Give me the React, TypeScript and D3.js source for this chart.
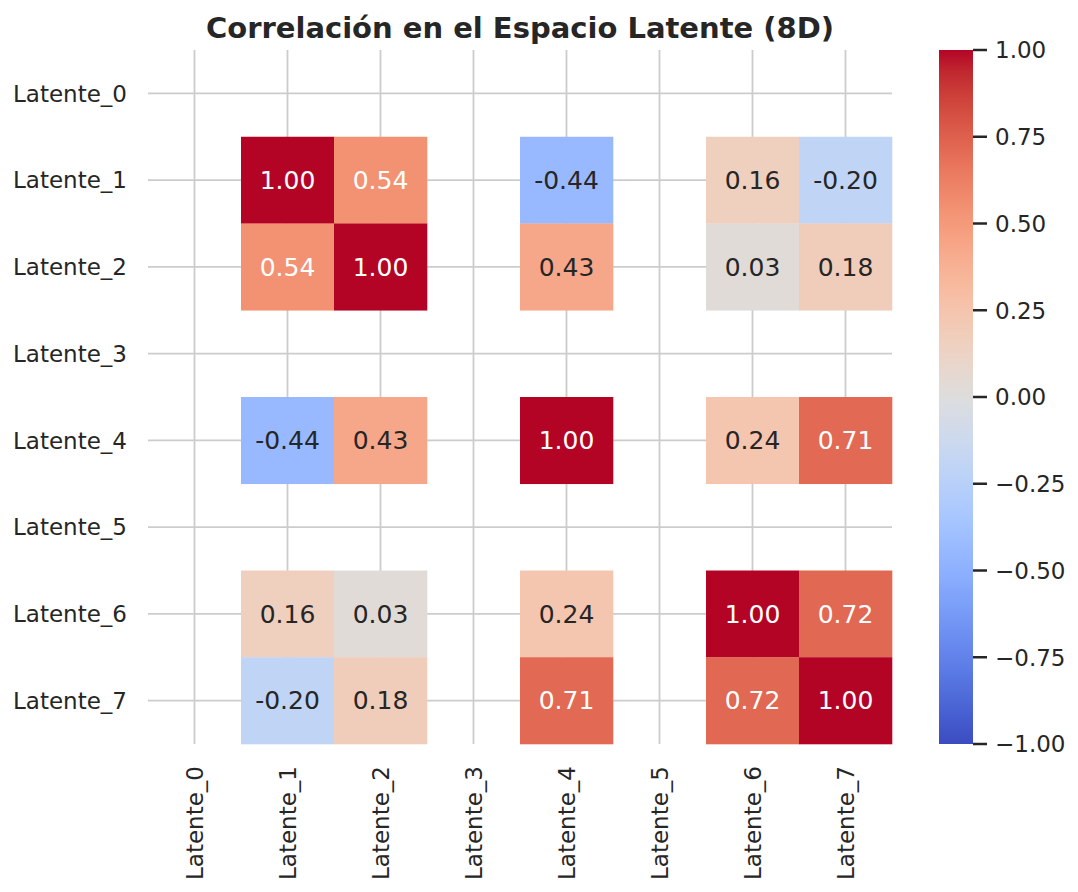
import React from "react";
import * as d3 from "d3";

const labels = ["Latente_0", "Latente_1", "Latente_2", "Latente_3", "Latente_4", "Latente_5", "Latente_6", "Latente_7"];
const N = NaN;
const corrMatrix: number[][] = [
  [N, N, N, N, N, N, N, N],
  [N, 1.0, 0.54, N, -0.44, N, 0.16, -0.2],
  [N, 0.54, 1.0, N, 0.43, N, 0.03, 0.18],
  [N, N, N, N, N, N, N, N],
  [N, -0.44, 0.43, N, 1.0, N, 0.24, 0.71],
  [N, N, N, N, N, N, N, N],
  [N, 0.16, 0.03, N, 0.24, N, 1.0, 0.72],
  [N, -0.2, 0.18, N, 0.71, N, 0.72, 1.0],
];
const cbarTicks = [1.0, 0.75, 0.5, 0.25, 0.0, -0.25, -0.5, -0.75, -1.0];
const title = "Correlación en el Espacio Latente (8D)";

// matplotlib coolwarm segment data
const coolwarmData: [number, number, number][] = [
  [0.2298057, 0.298717966, 0.753683153],
  [0.26623388, 0.353094838, 0.801466763],
  [0.30386891, 0.406535296, 0.84495867],
  [0.342804478, 0.458757618, 0.883725899],
  [0.38301334, 0.50941904, 0.917387822],
  [0.424369608, 0.558148092, 0.945619588],
  [0.46666708, 0.604562568, 0.968154911],
  [0.509635204, 0.648280772, 0.98478814],
  [0.552953156, 0.688929332, 0.995375608],
  [0.596262162, 0.726149107, 0.999836203],
  [0.639176211, 0.759599947, 0.998151185],
  [0.681291281, 0.788964712, 0.990363227],
  [0.722193294, 0.813952739, 0.976574709],
  [0.761464949, 0.834302879, 0.956945269],
  [0.798691636, 0.849786142, 0.931688648],
  [0.833466556, 0.860207984, 0.901068838],
  [0.865395197, 0.86541021, 0.865395561],
  [0.897787179, 0.848937047, 0.820880546],
  [0.924127593, 0.827384882, 0.774508472],
  [0.944468518, 0.800927443, 0.726736146],
  [0.958852946, 0.769767752, 0.678007945],
  [0.96732803, 0.734132809, 0.628751763],
  [0.969954137, 0.694266682, 0.579375448],
  [0.966811177, 0.650421156, 0.530263762],
  [0.958003065, 0.602842431, 0.481775914],
  [0.943660866, 0.551750968, 0.434243684],
  [0.923944917, 0.49730856, 0.387970225],
  [0.89904617, 0.439559467, 0.343229596],
  [0.869186849, 0.378313092, 0.300267182],
  [0.834620542, 0.312874446, 0.259301199],
  [0.795631745, 0.24128379, 0.220525627],
  [0.752534934, 0.157246067, 0.184115123],
  [0.705673158, 0.01555616, 0.150232812],
];

const cwDomain = coolwarmData.map((_, i) => -1 + (2 * i) / (coolwarmData.length - 1));
const cwRange = coolwarmData.map(([r, g, b]) => d3.rgb(r * 255, g * 255, b * 255).formatHex());
const color = d3.scaleLinear<string>().domain(cwDomain).range(cwRange).interpolate(d3.interpolateRgb).clamp(true);

function luminance(c: string) {
  const rgb = d3.rgb(c);
  const f = (v: number) => {
    const x = v / 255;
    return x <= 0.03928 ? x / 12.92 : Math.pow((x + 0.055) / 1.055, 2.4);
  };
  return 0.2126 * f(rgb.r) + 0.7152 * f(rgb.g) + 0.0722 * f(rgb.b);
}

const FONT = "'DejaVu Sans', sans-serif";
const TXT = "#262626";

export default function App() {
  const W = 1078, H = 892;
  const left = 148, right = 892, top = 50, bottom = 744;
  const x = d3.scaleBand<string>().domain(labels).range([left, right]);
  const y = d3.scaleBand<string>().domain(labels).range([top, bottom]);
  const cbX = 939, cbW = 34;
  const cbY = d3.scaleLinear().domain([-1, 1]).range([bottom, top]);
  const stops = d3.range(0, 65).map((i) => -1 + (2 * i) / 64);

  return (
    <svg width={W} height={H} style={{ display: "block", position: "absolute", left: 0, top: 0 }} fontFamily={FONT}>
      <defs>
        <linearGradient id="cbar" x1="0" y1="1" x2="0" y2="0">
          {stops.map((v, i) => (
            <stop key={i} offset={`${((v + 1) / 2) * 100}%`} stopColor={color(v)} />
          ))}
        </linearGradient>
      </defs>
      <rect x={0} y={0} width={W} height={H} fill="#ffffff" />
      {/* grid */}
      {labels.map((l) => (
        <line key={"gx" + l} x1={x(l)! + x.bandwidth() / 2} x2={x(l)! + x.bandwidth() / 2} y1={top} y2={bottom} stroke="#cccccc" strokeWidth={1.8} />
      ))}
      {labels.map((l) => (
        <line key={"gy" + l} y1={y(l)! + y.bandwidth() / 2} y2={y(l)! + y.bandwidth() / 2} x1={left} x2={right} stroke="#cccccc" strokeWidth={1.8} />
      ))}
      {/* cells */}
      {corrMatrix.map((row, i) =>
        row.map((v, j) => {
          if (isNaN(v)) return null;
          const c = color(v);
          const tc = luminance(c) > 0.408 ? TXT : "#ffffff";
          const cx = x(labels[j])!;
          const cy = y(labels[i])!;
          return (
            <g key={`c${i}-${j}`}>
              <rect x={cx} y={cy} width={x.bandwidth() + 0.3} height={y.bandwidth() + 0.3} fill={c} />
              <text x={cx + x.bandwidth() / 2} y={cy + y.bandwidth() / 2} dy="0.35em" textAnchor="middle" fontSize={25} fill={tc}>
                {v.toFixed(2)}
              </text>
            </g>
          );
        })
      )}
      {/* y tick labels */}
      {labels.map((l) => (
        <text key={"yl" + l} x={127} y={y(l)! + y.bandwidth() / 2} dy="0.36em" textAnchor="end" fontSize={23} fill={TXT}>
          {l}
        </text>
      ))}
      {/* x tick labels */}
      {labels.map((l) => (
        <text
          key={"xl" + l}
          transform={`translate(${x(l)! + x.bandwidth() / 2},766) rotate(-90)`}
          dy="0.36em"
          textAnchor="end"
          fontSize={23}
          fill={TXT}
        >
          {l}
        </text>
      ))}
      {/* title */}
      <text x={(left + right) / 2} y={38} textAnchor="middle" fontSize={29} fontWeight="bold" fill={TXT}>
        {title}
      </text>
      {/* colorbar */}
      <rect x={cbX} y={top} width={cbW} height={bottom - top} fill="url(#cbar)" />
      {cbarTicks.map((t) => (
        <g key={"cb" + t}>
          <line x1={cbX + cbW} x2={cbX + cbW + 14} y1={cbY(t)} y2={cbY(t)} stroke={TXT} strokeWidth={2.5} />
          <text x={cbX + cbW + 22} y={cbY(t)} dy="0.36em" fontSize={23} fill={TXT}>
            {t < 0 ? "\u2212" + Math.abs(t).toFixed(2) : t.toFixed(2)}
          </text>
        </g>
      ))}
    </svg>
  );
}
